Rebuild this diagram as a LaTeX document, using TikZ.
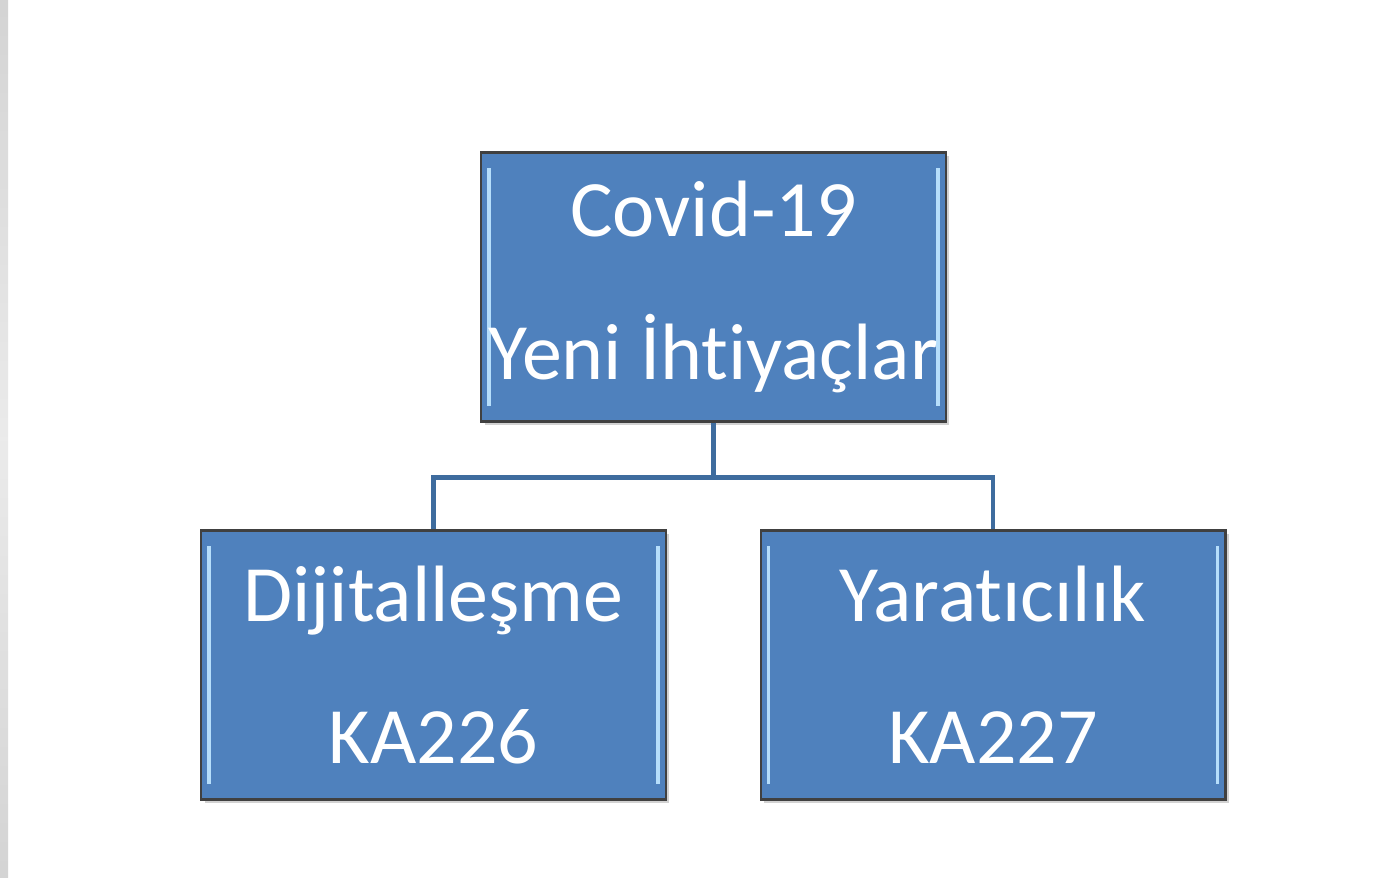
\documentclass[tikz,border=0pt]{standalone}
\usepackage{fontspec}
\setmainfont{Carlito}[Ligatures=NoCommon]
\usepackage{tikz}
\usetikzlibrary{positioning,shadows}

\definecolor{boxblue}{HTML}{4F81BD}
\definecolor{linkblue}{HTML}{3E6C9E}
\definecolor{bevelblue}{HTML}{B6DEFB}

\tikzset{
	unitbox/.style={rectangle, fill=boxblue, draw=black!75, line width=1.2pt,
		minimum width=9.3cm, minimum height=5.38cm, inner sep=0pt,
		text=white, align=center, font=\fontsize{45.5}{81}\selectfont,
		drop shadow={shadow xshift=2pt, shadow yshift=-2pt, opacity=.35},
		path picture={
			\draw[bevel] ([xshift=4.5pt,yshift=-9pt]path picture bounding box.north west)
				-- ([xshift=4.5pt,yshift=9pt]path picture bounding box.south west);
			\draw[bevel] ([xshift=-4.5pt,yshift=-9pt]path picture bounding box.north east)
				-- ([xshift=-4.5pt,yshift=9pt]path picture bounding box.south east);
		}},
	bevel/.style={bevelblue, line width=2pt},
	link/.style={linkblue, line width=2.5pt}
}

\begin{document}
\begin{tikzpicture}[x=0.02cm, y=-0.02cm]

	\useasboundingbox (0,0) rectangle (1388,877);
	\fill[white] (0,0) rectangle (1388,877);
	\shade[top color=black!17, bottom color=black!17, middle color=black!8] (0,0) rectangle (8,877);

	\node[unitbox] (covid) at (713.5,287) {Covid-19\\Yeni İhtiyaçlar};
	\node[unitbox] (dijital) at (433.5,665) {Dijitalleşme\\KA226};
	\node[unitbox] (yaratici) at (993,665) {Yaratıcılık\\KA227};

	\draw[link] (covid.south) -- ++(0,55) -| (dijital.north);
	\draw[link] (covid.south) -- ++(0,55) -| (yaratici.north);

\end{tikzpicture}
\end{document}
